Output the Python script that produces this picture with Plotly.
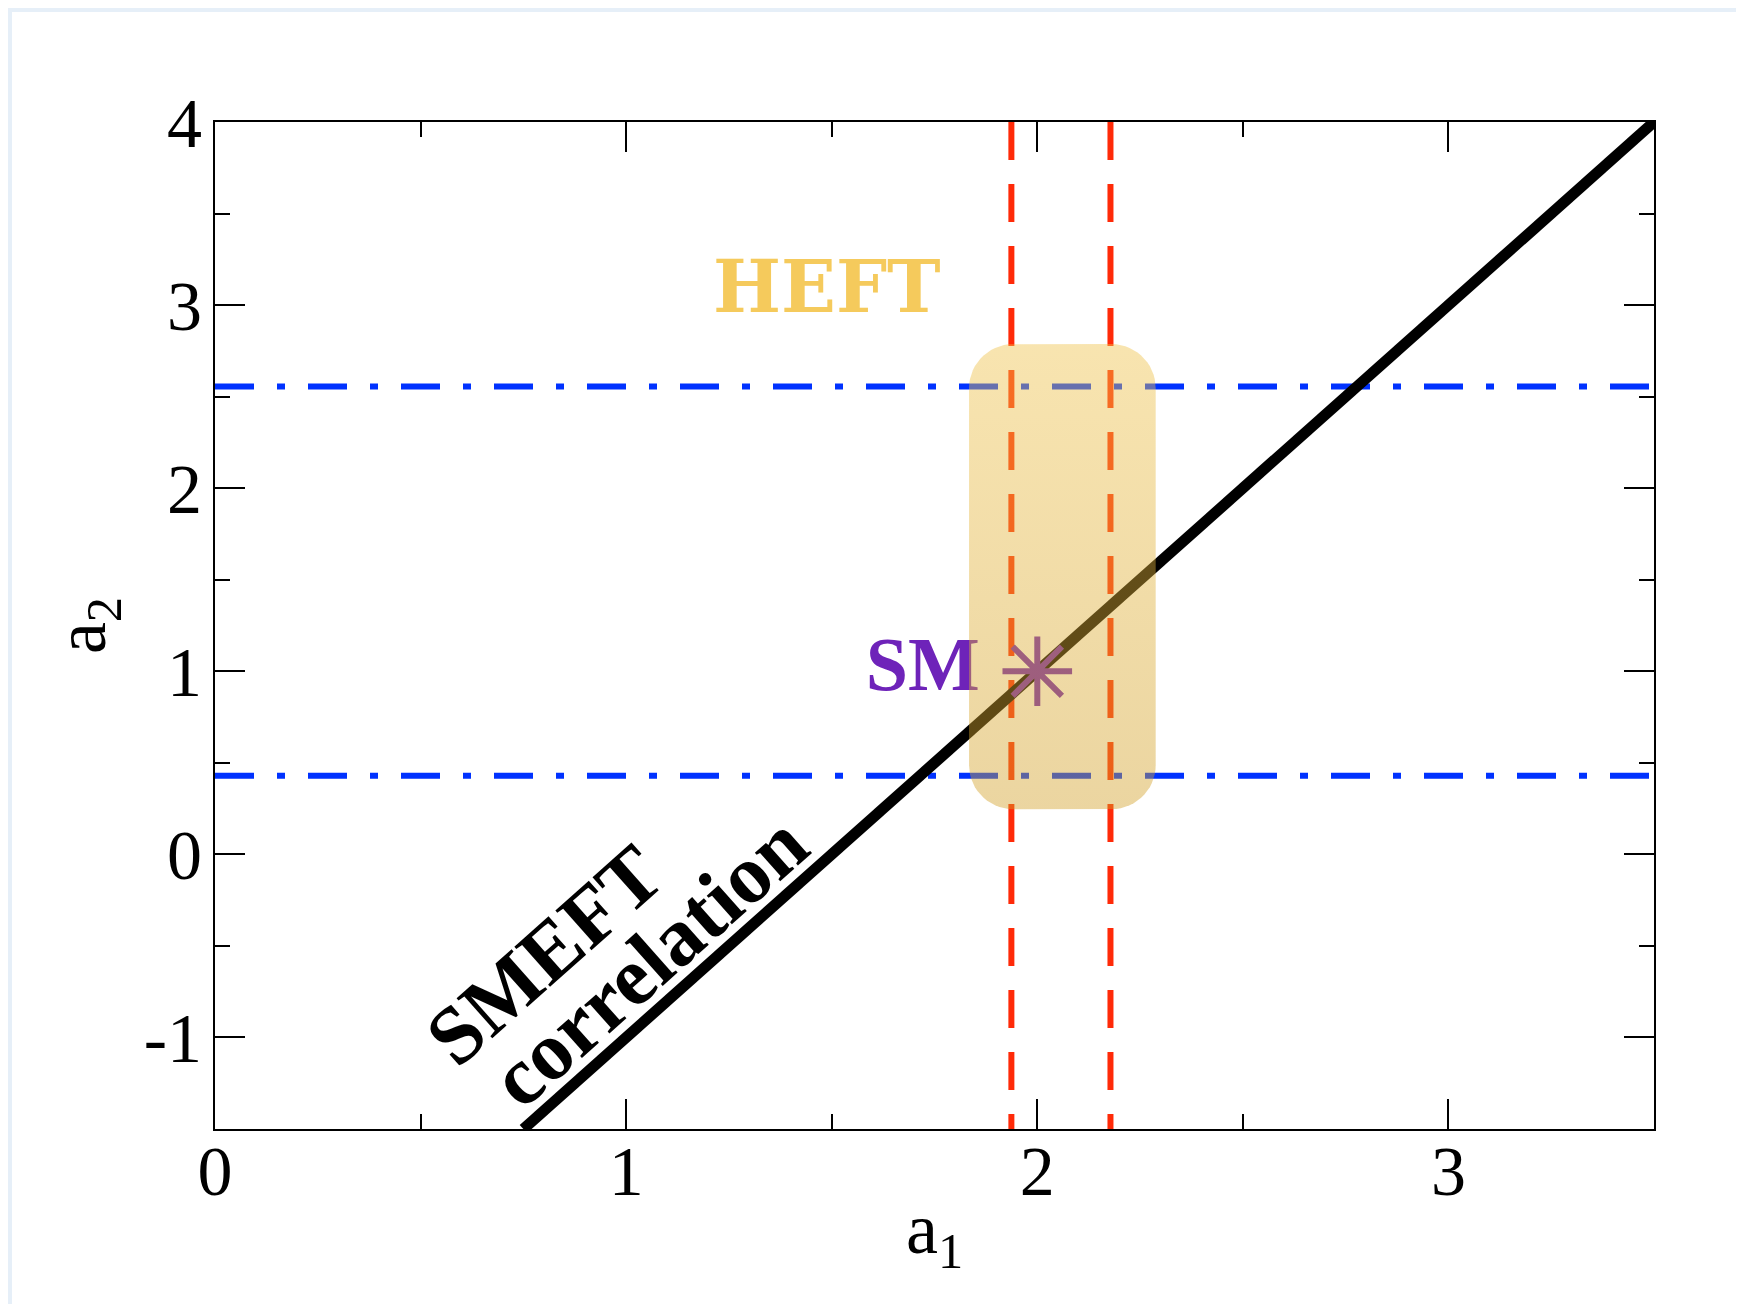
import numpy as np
import plotly.graph_objects as go

# ---------------- data ----------------
x_range = [0, 3.5]
y_range = [-1.5, 4]
x_major = [0, 1, 2, 3]
x_labels = ["0", "1", "2", "3"]
y_major = [-1, 0, 1, 2, 3, 4]
y_labels = ["-1", "0", "1", "2", "3", "4"]

# SMEFT correlation line (a2 = 2 a1 - 3)
smeft_a1 = [0.75, 3.5]
smeft_a2 = [-1.5, 4.0]

# bounds on a1 (red dashed verticals) and a2 (blue dash-dot horizontals)
a1_bounds = [1.937, 2.178]
a2_bounds = [0.43, 2.556]

# HEFT allowed region (rounded box)
heft_a1 = [1.834, 2.288]
heft_a2 = [0.247, 2.787]

# Standard Model point
sm_a1 = [2.0]
sm_a2 = [1.0]

# ---------------- layout geometry ----------------
W, H = 1744, 1304
BODY = 8  # default page margin of the html body
ML, MR, MT, MB = 215 - BODY, 90 + BODY, 122 - BODY, 175 + BODY
pw, ph = W - ML - MR, H - MT - MB
px_x = pw / (x_range[1] - x_range[0])
px_y = ph / (y_range[1] - y_range[0])

fig = go.Figure()

# blue dash-dot horizontals
for yb in a2_bounds:
    fig.add_trace(go.Scatter(x=x_range, y=[yb, yb], mode="lines",
                             line=dict(color="#0032ff", width=6, dash="39px,23px,8px,23px"),
                             hoverinfo="skip", showlegend=False, cliponaxis=False))
# red dashed verticals
for xb in a1_bounds:
    fig.add_trace(go.Scatter(x=[xb, xb], y=[y_range[1], y_range[0]], mode="lines",
                             line=dict(color="#ff2a08", width=6, dash="38px,24px"),
                             hoverinfo="skip", showlegend=False, cliponaxis=False))
# SMEFT correlation line
fig.add_trace(go.Scatter(x=smeft_a1, y=smeft_a2, mode="lines",
                         line=dict(color="black", width=11),
                         hoverinfo="skip", showlegend=False, cliponaxis=False))
# SM point
fig.add_trace(go.Scatter(x=sm_a1, y=sm_a2, mode="markers",
                         marker=dict(symbol="asterisk-open", size=58, color="#6e23b9",
                                     line=dict(color="#6e23b9", width=6)),
                         hoverinfo="skip", showlegend=False))
# SM label
fig.add_trace(go.Scatter(x=[1.86], y=sm_a2, mode="text", text=["<b>SM</b>"],
                         textposition="middle left",
                         textfont=dict(family="Liberation Serif", size=76, color="#6e23b9"),
                         hoverinfo="skip", showlegend=False))

# rounded HEFT box (semi-transparent, drawn on top)
r_px = 44
rx, ry = r_px / px_x, r_px / px_y
x0, x1 = heft_a1
y0, y1 = heft_a2
t = np.linspace(0, np.pi / 2, 16)
bx, by = [], []
for (cx, cy, a0) in [(x1 - rx, y1 - ry, 0), (x0 + rx, y1 - ry, np.pi / 2),
                     (x0 + rx, y0 + ry, np.pi), (x1 - rx, y0 + ry, 1.5 * np.pi)]:
    bx.extend(cx + rx * np.cos(a0 + t))
    by.extend(cy + ry * np.sin(a0 + t))
bx.append(bx[0]); by.append(by[0])
fig.add_trace(go.Scatter(x=bx, y=by, mode="lines", fill="toself",
                         line=dict(width=0, color="rgba(0,0,0,0)"),
                         fillgradient=dict(type="vertical",
                                           colorscale=[[0, "rgba(210,160,40,0.44)"],
                                                       [1, "rgba(239,194,74,0.44)"]]),
                         hoverinfo="skip", showlegend=False))

title_font = dict(family="Liberation Serif", size=72, color="black")
annotations = [
    dict(x=1.488, y=3.10, text="<b>HEFT</b>", showarrow=False,
         font=dict(family="DejaVu Serif", size=72, color="#f5ca5c")),
    dict(x=0.80, y=-0.55, text="<b>SMEFT</b>", showarrow=False, textangle=-41.7,
         font=dict(family="Liberation Serif", size=82, color="black")),
    dict(x=1.055, y=-0.585, text="<b>correlation</b>", showarrow=False, textangle=-41.7,
         font=dict(family="Liberation Serif", size=83, color="black")),
    # x-axis title
    dict(xref="paper", yref="paper", x=0.5, y=-58 / ph, xanchor="center", yanchor="top",
         text="a<sub>1</sub>", showarrow=False, font=title_font),
]

# light grid-paper strips at the page edges
shapes = [
    dict(type="rect", xref="paper", yref="paper", layer="below",
         x0=-ML / pw, x1=(W - ML) / pw, y0=1 + (MT - 4) / ph, y1=1 + MT / ph,
         fillcolor="#e6eff8", line=dict(width=0)),
    dict(type="rect", xref="paper", yref="paper", layer="below",
         x0=-ML / pw, x1=(4 - ML) / pw, y0=-MB / ph, y1=1 + MT / ph,
         fillcolor="#e6eff8", line=dict(width=0)),
]

tickfont = dict(family="Liberation Serif", size=70, color="black")
common = dict(showgrid=False, zeroline=False, showline=True, linewidth=2, linecolor="black",
              mirror="allticks", ticks="inside", ticklen=30, tickwidth=1.5, tickcolor="black",
              tickfont=tickfont)
minor = dict(dtick=0.5, tick0=0, ticks="inside", ticklen=15, tickwidth=1.5, tickcolor="black")

fig.update_layout(
    width=W, height=H,
    margin=dict(l=ML, r=MR, t=MT, b=MB),
    paper_bgcolor="white", plot_bgcolor="white",
    xaxis=dict(range=x_range, tickvals=x_major, ticktext=x_labels, minor=minor,
               ticklabelstandoff=-20, **common),
    yaxis=dict(range=y_range, tickvals=y_major, ticktext=y_labels, minor=minor,
               ticklabelstandoff=-3,
               title=dict(text="a<sub>2</sub>", font=title_font, standoff=14),
               **common),
    annotations=annotations,
    shapes=shapes,
)

fig.write_html("out.html")
